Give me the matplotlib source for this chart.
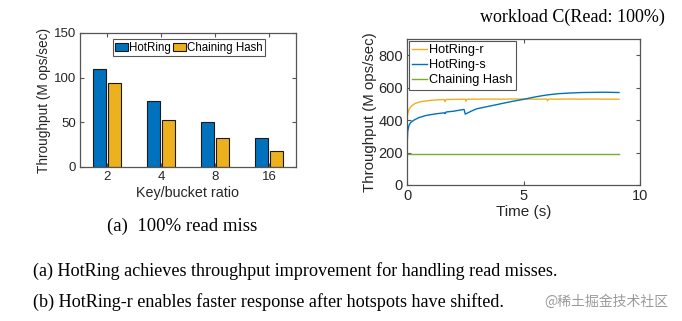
import matplotlib
matplotlib.use("Agg")
import matplotlib.pyplot as plt
import numpy as np

# ---- data ----
ratios = ["2", "4", "8", "16"]
hotring_miss = [110, 74, 50, 33]
chaining_miss = [94, 53, 32, 18]

t_r = [0, 0.03, 0.1, 0.2, 0.35, 0.6, 0.9, 1.3, 1.6, 1.63, 1.68, 2.0, 2.5, 2.53, 2.58,
       3.0, 3.5, 4.0, 4.5, 5.0, 5.5, 6.0, 6.03, 6.08, 6.5, 7.0, 7.5, 8.0, 8.5, 9.1]
hotring_r = [400, 440, 470, 488, 503, 514, 520, 525, 527, 514, 527, 528, 529, 517, 529,
             529, 530, 529, 530, 530, 529, 530, 519, 530, 529, 530, 529, 530, 529, 529]
t_s = [0, 0.03, 0.08, 0.15, 0.3, 0.5, 0.8, 1.2, 1.6, 1.63, 1.68, 2.0, 2.45, 2.5, 2.8,
       3.0, 3.5, 4.0, 4.5, 5.0, 5.5, 6.0, 6.5, 7.0, 7.5, 8.0, 8.5, 9.1]
hotring_s = [225, 330, 365, 385, 400, 415, 428, 438, 445, 440, 450, 455, 466, 437, 458,
             470, 485, 500, 515, 528, 543, 555, 563, 567, 570, 571, 572, 570]
t_c = [0, 9.1]
chaining_c = [190, 190]

BLUE = "#0072BD"
YELLOW = "#EDB120"
GREEN = "#77AC30"
AX = "#555555"
TXT = "#262626"
SANS = ["Liberation Sans", "DejaVu Sans"]
SERIF = ["Liberation Serif", "DejaVu Serif"]

plt.rcParams["font.family"] = SANS

fig = plt.figure(figsize=(6.82, 3.21), dpi=100)
W, H = 682, 321

def ax_rect(x0, y0, x1, y1):
    return [x0 / W, 1 - y1 / H, (x1 - x0) / W, (y1 - y0) / H]

def style(ax, fs):
    for s in ax.spines.values():
        s.set_color(AX)
        s.set_linewidth(0.9)
    ax.tick_params(direction="in", top=True, right=True, length=3, width=0.8,
                   colors=AX, labelcolor=TXT, labelsize=fs, pad=3)

# ---- left: bar chart ----
ax1 = fig.add_axes(ax_rect(80, 33, 296, 167))
x = np.arange(1, len(ratios) + 1)
bw = 0.25
ax1.bar(x - 0.14, hotring_miss, bw, color=BLUE, edgecolor="#1a1a1a", linewidth=0.8, label="HotRing")
ax1.bar(x + 0.14, chaining_miss, bw, color=YELLOW, edgecolor="#1a1a1a", linewidth=0.8, label="Chaining Hash")
ax1.set_xlim(0.5, 4.5)
ax1.set_ylim(0, 150)
ax1.set_xticks(x)
ax1.set_xticklabels(ratios)
ax1.set_yticks([0, 50, 100, 150])
style(ax1, 9.5)
ax1.set_xlabel("Key/bucket ratio", fontsize=10.3, color=TXT, labelpad=2)
ax1.set_ylabel("Throughput (M ops/sec)", fontsize=9.8, color=TXT, labelpad=2)
leg1 = ax1.legend(loc="upper center", bbox_to_anchor=(0.505, 0.97), ncol=2, fontsize=8.3,
                  frameon=True, fancybox=False, edgecolor=AX, framealpha=1,
                  handlelength=1.1, handleheight=0.7, handletextpad=0.1,
                  columnspacing=0.2, borderpad=0.2, borderaxespad=0.2)
leg1.get_frame().set_linewidth(0.8)

# ---- right: line chart ----
ax2 = fig.add_axes(ax_rect(407, 39, 640, 185))
ax2.plot(t_r, hotring_r, color=YELLOW, lw=1.0, label="HotRing-r")
ax2.plot(t_s, hotring_s, color=BLUE, lw=1.0, label="HotRing-s")
ax2.plot(t_c, chaining_c, color=GREEN, lw=1.0, label="Chaining Hash")
ax2.set_xlim(0, 10)
ax2.set_ylim(0, 900)
ax2.set_xticks([0, 5, 10])
ax2.set_yticks([0, 200, 400, 600, 800])
style(ax2, 10.5)
ax2.set_xlabel("Time (s)", fontsize=11, color=TXT, labelpad=1)
ax2.set_ylabel("Throughput (M ops/sec)", fontsize=10.8, color=TXT, labelpad=1)
leg2 = ax2.legend(loc="upper left", fontsize=9.2, frameon=True, fancybox=False,
                  edgecolor=AX, framealpha=1, handlelength=1.2, handletextpad=0.15,
                  labelspacing=0.25, borderpad=0.25, borderaxespad=0.15)
leg2.get_frame().set_linewidth(0.8)

# ---- texts ----
fig.text(572 / W, 1 - 17 / H, "workload C(Read: 100%)", family=SERIF, fontsize=13,
         ha="center", va="center", color="black")
fig.text(182 / W, 1 - 226 / H, "(a)  100% read miss", family=SERIF, fontsize=13.5,
         ha="center", va="center", color="black")
fig.text(33 / W, 1 - 271 / H, "(a) HotRing achieves throughput improvement for handling read misses.",
         family=SERIF, fontsize=13.1, ha="left", va="center", color="black")
fig.text(33 / W, 1 - 302 / H, "(b) HotRing-r enables faster response after hotspots have shifted.",
         family=SERIF, fontsize=13.1, ha="left", va="center", color="black")
fig.text(606 / W, 1 - 302 / H, "@稀土掘金技术社区", family=["Noto Sans CJK SC", "DejaVu Sans"],
         fontsize=10, ha="center", va="center", color="#9a9a9a")

fig.savefig("out.png", dpi=100, facecolor="white")
